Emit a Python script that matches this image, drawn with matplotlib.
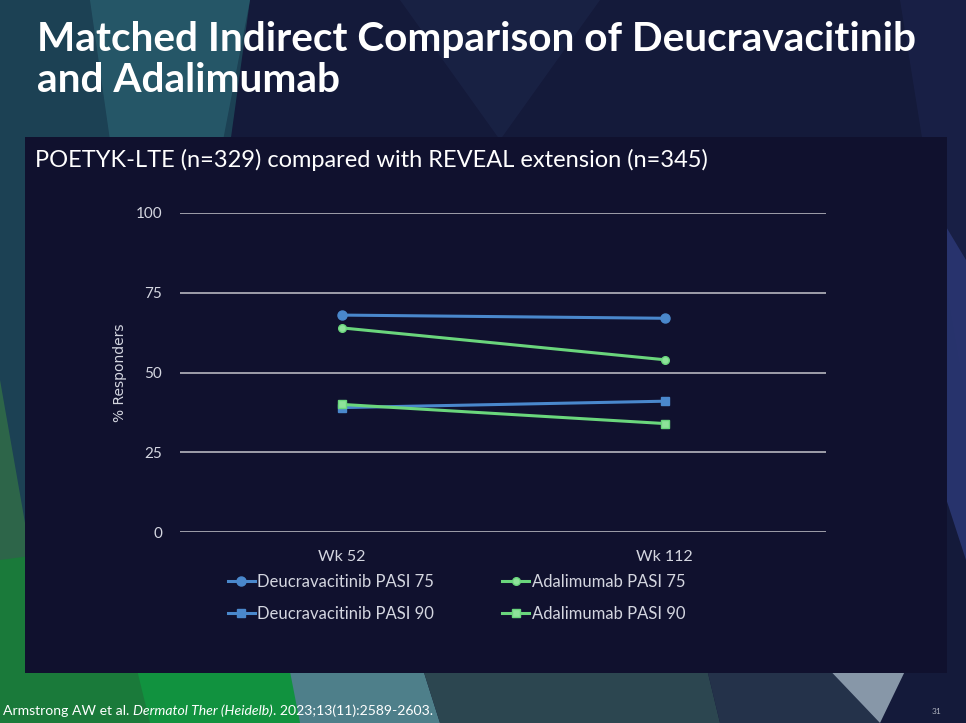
import numpy as np
import matplotlib.pyplot as plt
from matplotlib.patches import Polygon, Rectangle

# data
weeks = ["Wk 52", "Wk 112"]
deucra_pasi75 = [68, 67]
adali_pasi75 = [64, 54]
deucra_pasi90 = [39, 41]
adali_pasi90 = [40, 34]
y_ticks = [0, 25, 50, 75, 100]

title_lines = ["Matched Indirect Comparison of Deucravacitinib", "and Adalimumab"]
subtitle = "POETYK-LTE (n=329) compared with REVEAL extension (n=345)"

BLUE = "#4a88cc"
GREEN = "#6ad67c"
PANEL = "#10112e"
TXT = "#d4d6e0"

W, H = 966, 723
plt.rcParams['font.family'] = ['Lato', 'DejaVu Sans']

fig = plt.figure(figsize=(W / 100, H / 100), dpi=100)
fig.patch.set_facecolor("#141a3a")


def px(x, y):
    # pixel coords (top-left origin) -> figure fraction
    return (x / W, 1 - y / H)


def poly(pts, color, alpha=1.0):
    fig.add_artist(Polygon([px(*p) for p in pts], closed=True, facecolor=color,
                           edgecolor="none", alpha=alpha, transform=fig.transFigure, zorder=0))


# decorative background shapes
poly([(0, 0), (250, 0), (150, 723), (0, 723)], "#1d4658", 0.9)
poly([(90, 0), (250, 0), (200, 260), (110, 140)], "#2a6070", 0.7)
poly([(0, 380), (60, 723), (0, 723)], "#2f6a48", 0.9)
poly([(0, 560), (150, 540), (330, 723), (0, 723)], "#1a7a3a")
poly([(120, 600), (290, 640), (300, 723), (150, 723)], "#11923f")
poly([(280, 620), (420, 660), (440, 723), (300, 723)], "#4e7f8a")
poly([(420, 660), (700, 640), (720, 723), (440, 723)], "#2c4650")
poly([(700, 640), (820, 660), (880, 723), (720, 723)], "#24324a")
poly([(820, 660), (920, 640), (880, 723)], "#8797a8")
poly([(900, 0), (966, 0), (966, 400), (940, 250)], "#1a2148", 0.8)
poly([(930, 200), (966, 260), (966, 560), (940, 480)], "#2a3672", 0.9)
poly([(400, 0), (600, 0), (500, 140)], "#1b2448", 0.7)

# dark chart panel
fig.add_artist(Rectangle(px(25, 673), 922 / W, 536 / H, facecolor=PANEL,
                         edgecolor="none", transform=fig.transFigure, zorder=1))

fig.text(37 / W, 1 - 51 / H, title_lines[0], color="white", fontsize=29.2,
         fontweight="bold", va="baseline", ha="left")
fig.text(37 / W, 1 - 92 / H, title_lines[1], color="white", fontsize=29.2,
         fontweight="bold", va="baseline", ha="left")
fig.text(35 / W, 1 - 160 / H, subtitle, color="white", fontsize=17, va="center", ha="left")

# plot area: x 180..826, y 213..532
ax = fig.add_axes([180 / W, 1 - 532 / H, 646 / W, 319 / H])
ax.set_facecolor("none")
ax.set_zorder(2)

x = np.arange(len(weeks))
l1, = ax.plot(x, deucra_pasi75, color=BLUE, lw=2.2, marker="o", ms=6.5)
l2, = ax.plot(x, adali_pasi75, color=GREEN, lw=2.2, marker="o", ms=5.5,
              markerfacecolor="#8ee39a")
l3, = ax.plot(x, deucra_pasi90, color=BLUE, lw=2.2, marker="s", ms=6)
l4, = ax.plot(x, adali_pasi90, color=GREEN, lw=2.2, marker="s", ms=6,
              markerfacecolor="#8ee39a", markeredgecolor=GREEN)

ax.set_xlim(-0.5, 1.5)
ax.set_ylim(0, 100)
ax.set_yticks(y_ticks)
ax.set_xticks(x)
ax.set_xticklabels(weeks)
for yv in y_ticks:
    ax.axhline(yv, color="#a9a9b3", lw=1.3, zorder=0)
for s in ax.spines.values():
    s.set_visible(False)
ax.tick_params(length=0, colors=TXT, labelsize=11.5)
ax.tick_params(axis="y", pad=13, labelsize=11)
ax.tick_params(axis="x", pad=13)
ax.set_ylabel("% Responders", color=TXT, fontsize=10, family="DejaVu Sans", va="center")
ax.yaxis.set_label_coords(-60 / 646, 0.5)

# legend is filled column by column, so order handles for row-wise reading
handles = [l1, l3, l2, l4]
labels = ["Deucravacitinib PASI 75", "Deucravacitinib PASI 90",
          "Adalimumab PASI 75", "Adalimumab PASI 90"]
leg = fig.legend(handles, labels, ncol=2, loc="upper left", bbox_to_anchor=px(213, 559),
                 frameon=False, fontsize=12, handlelength=1.6, handletextpad=0.15,
                 columnspacing=4.1, labelspacing=0.95, labelcolor=TXT)

# footer reference with italic journal name
renderer = fig.canvas.get_renderer()
parts = [("Armstrong AW et al. ", "normal"), ("Dermatol Ther (Heidelb)", "italic"),
         (". 2023;13(11):2589-2603.", "normal")]
xpos = 3
for txt, style in parts:
    t = fig.text(xpos / W, 1 - 711 / H, txt, color="white", fontsize=10.1, style=style,
                 va="center", ha="left")
    xpos += t.get_window_extent(renderer).width
fig.text(937 / W, 1 - 711 / H, "31", color="#b0b4c0", fontsize=6, va="center", ha="center")

fig.savefig("out.png", dpi=100, facecolor=fig.get_facecolor())
